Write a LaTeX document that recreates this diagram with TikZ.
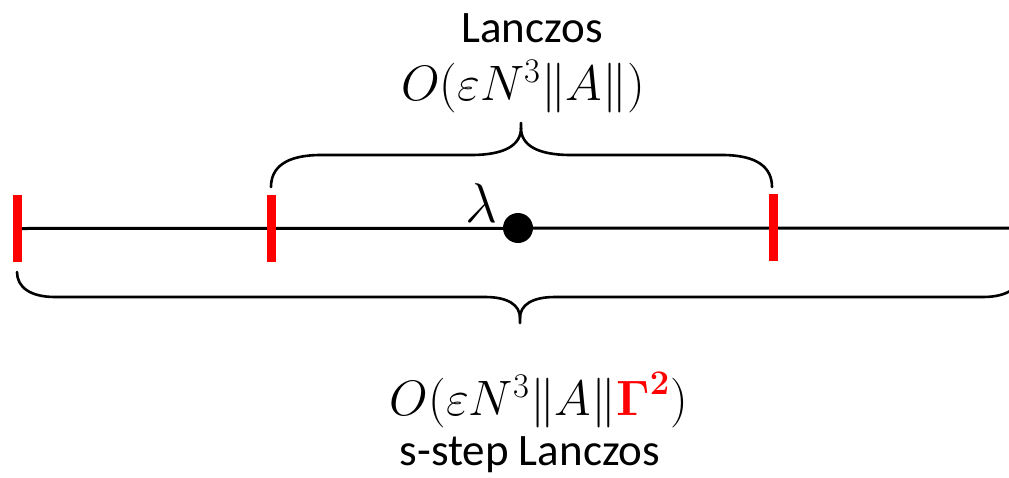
\documentclass[tikz,border=0pt]{standalone}
\usepackage{graphicx}
\usepackage{amsmath,bm}
\usepackage{fontspec}
\setmainfont{Carlito}
\newcommand{\mybigmath}[2]{\scalebox{#1}{\fontsize{24}{28}\selectfont #2}}
\begin{document}
\begin{tikzpicture}[x=1pt,y=-1pt,
  bar/.style={fill=red,inner sep=0pt,minimum width=9pt,minimum height=67pt,draw=none},
  brc/.style={line width=2.6pt,line cap=round},
  txt/.style={inner sep=0pt,font=\fontsize{45}{48}\selectfont},
  mth/.style={inner sep=0pt}]
\useasboundingbox (0,0) rectangle (1009,477);
% axis
\coordinate (re) at (1012,228);
\node[bar] (b1) at (17.5,228.5) {};
\node[bar] (b2) at (271,228.5) {};
\node[bar] (b3) at (773,227.5) {};
\draw[line width=3pt] (b1.center) -- (re);
\node[bar] at (17.5,228.5) {};
\node[bar] at (271,228.5) {};
\node[bar] at (773,227.5) {};
\node[circle,fill=black,inner sep=0pt,minimum size=30pt] (dot) at (518,228) {};
\node[inner sep=0pt] (lam) at (481,203) {\mybigmath{2.25}{$\lambda$}};
% top brace
\draw[brc] (271,187) .. controls (271,168) and (285,155) .. (321,155)
  -- (471,155) .. controls (505,155) and (521,145) .. (521,128) -- (521,123);
\draw[brc] (521,128) .. controls (521,145) and (537,155) .. (571,155)
  -- (722,155) .. controls (758,155) and (772,168) .. (772,187);
% bottom brace
\draw[brc] (17,272) .. controls (17,287) and (30,297) .. (55,297)
  -- (485,297) .. controls (508,297) and (520,305) .. (520,318) -- (520,323);
\draw[brc] (520,318) .. controls (520,305) and (532,297) .. (555,297)
  -- (983,297) .. controls (1008,297) and (1021,287) .. (1021,272);
% texts
\node[txt] (t1) at (532,28) {Lanczos};
\node[mth] (m1) at (523,87) {\mybigmath{2}{$O(\varepsilon N^{3}\|A\|)$}};
\node[mth] (m2) at (539,400) {\mybigmath{2}{$O(\varepsilon N^{3}\|A\|{\color{red}\bm{\Gamma}^{\bm{2}}})$}};
\node[txt] (t2) at (530,455) {s-step Lanczos};
\end{tikzpicture}
\end{document}
